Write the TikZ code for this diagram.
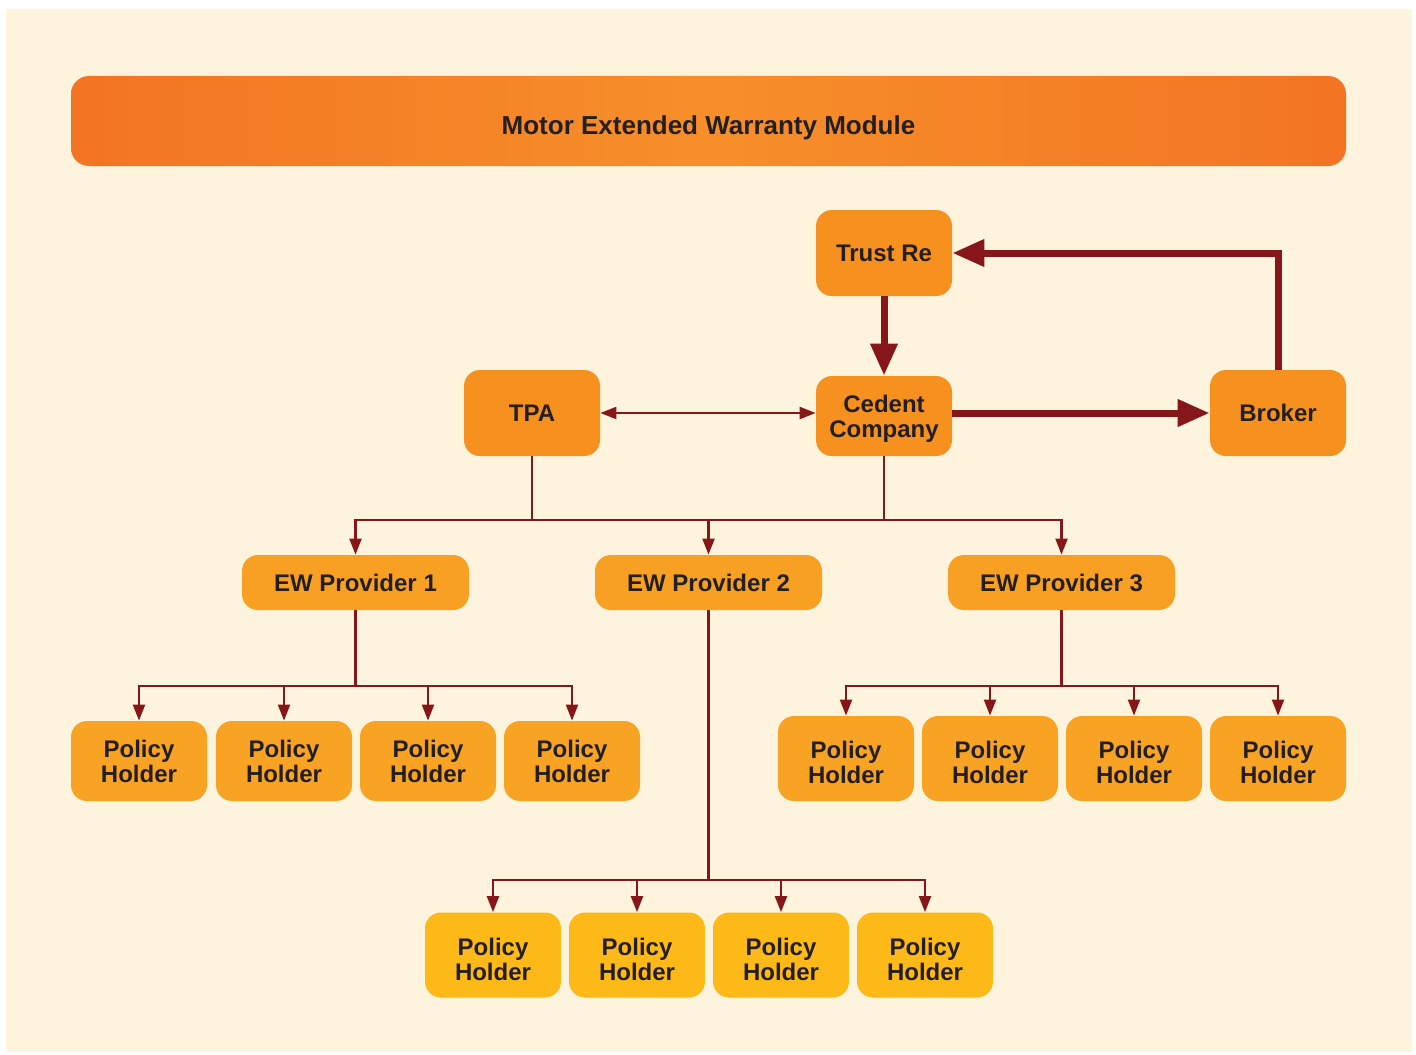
\documentclass[tikz,border=0pt]{standalone}
\usepackage{fontspec}
\setmainfont{Liberation Sans}
\usetikzlibrary{arrows.meta}
\definecolor{cream}{HTML}{FEF3DC}
\definecolor{linkred}{HTML}{85161A}
\definecolor{inkgray}{HTML}{231F20}
\definecolor{deeporange}{HTML}{F37424}
\definecolor{midorange}{HTML}{F68F2A}
\definecolor{boxorange}{HTML}{F6901F}
\definecolor{ewamber}{HTML}{F8A023}
\definecolor{holderamber}{HTML}{F8A324}
\definecolor{holderyellow}{HTML}{FDB918}
\tikzset{
	every node/.style = {font=\bfseries\fontsize{12pt}{12.5pt}\selectfont, text=inkgray, align=center},
	banner/.style = {rounded corners=9pt, minimum width=637.5pt, minimum height=45pt, inner sep=0pt,
		left color=deeporange, right color=deeporange, middle color=midorange,
		text height=13pt, text depth=0pt, font=\bfseries\fontsize{13pt}{14pt}\selectfont},
	box/.style = {rounded corners=8pt, fill=boxorange, minimum width=68pt, minimum height=43pt, inner sep=0pt},
	ewbox/.style = {rounded corners=8pt, fill=ewamber, minimum width=113.5pt, minimum height=27.5pt, inner sep=0pt},
	holder/.style = {rounded corners=8pt, fill=holderamber, minimum width=68pt, minimum height=40pt, inner sep=0pt},
	tallholder/.style = {holder, minimum height=42.5pt, text height=25.3pt, text depth=0pt},
	lowholder/.style = {tallholder, fill=holderyellow},
	bigarrow/.style = {-{Triangle[length=16pt,width=13pt]}, line width=3.5pt, draw=linkred},
	link/.style = {line width=1.1pt, draw=linkred, >={Triangle[length=8pt,width=6pt]}}
}
\begin{document}
\begin{tikzpicture}[x=0.5pt, y=-0.5pt]
		\useasboundingbox (0,0) rectangle (1416,1054);
		\fill[white] (0,0) rectangle (1416,1054);
		\fill[cream] (6,9) rectangle (1412,1052);
		% title
		\node[banner] (title) at (708.5,121) {Motor Extended Warranty Module};
		% top level
		\node[box] (trust) at (884,253) {Trust Re};
		\node[box] (tpa) at (532,413) {TPA};
		\node[box, minimum height=40pt, text depth=0pt] (cedent) at (884,416) {Cedent\\Company};
		\node[box] (broker) at (1278,413) {Broker};
		% providers
		\node[ewbox] (ew1) at (355.5,582.5) {EW Provider 1};
		\node[ewbox] (ew2) at (708.5,582.5) {EW Provider 2};
		\node[ewbox] (ew3) at (1061.5,582.5) {EW Provider 3};
		% policy holders
		\node[holder] (ph11) at (139,761) {Policy\\Holder};
		\node[holder] (ph12) at (284,761) {Policy\\Holder};
		\node[holder] (ph13) at (428,761) {Policy\\Holder};
		\node[holder] (ph14) at (572,761) {Policy\\Holder};
		\node[tallholder] (ph31) at (846,758.5) {Policy\\Holder};
		\node[tallholder] (ph32) at (990,758.5) {Policy\\Holder};
		\node[tallholder] (ph33) at (1134,758.5) {Policy\\Holder};
		\node[tallholder] (ph34) at (1278,758.5) {Policy\\Holder};
		\node[lowholder] (ph21) at (493,955) {Policy\\Holder};
		\node[lowholder] (ph22) at (637,955) {Policy\\Holder};
		\node[lowholder] (ph23) at (781,955) {Policy\\Holder};
		\node[lowholder] (ph24) at (925,955) {Policy\\Holder};
		% split points
		\coordinate (split) at (0,520);
		\coordinate (split1) at (0,686);
		\coordinate (split2) at (0,880);
		% reinsurance loop
		\draw[bigarrow] (trust.south) -- (cedent.north);
		\draw[bigarrow] (cedent.east |- broker.west) -- (broker.west);
		\draw[bigarrow] (broker.north) |- (trust.east);
		\draw[link, <->] (tpa.east) -- (cedent.west |- tpa.east);
		% to providers
		\draw[link] (tpa.south) -- (tpa.south |- split);
		\draw[link] (cedent.south) -- (cedent.south |- split);
		\draw[link, line cap=rect] (ew1.north |- split) -- (ew3.north |- split);
		\foreach \n in {ew1,ew2,ew3}
			\draw[link, ->] (\n.north |- split) -- (\n.north);
		% to holders
		\draw[link] (ew1.south) -- (ew1.south |- split1);
		\draw[link, line cap=rect] (ph11.north |- split1) -- (ph14.north |- split1);
		\foreach \n in {ph11,ph12,ph13,ph14}
			\draw[link, ->] (\n.north |- split1) -- (\n.north);
		\draw[link] (ew3.south) -- (ew3.south |- split1);
		\draw[link, line cap=rect] (ph31.north |- split1) -- (ph34.north |- split1);
		\foreach \n in {ph31,ph32,ph33,ph34}
			\draw[link, ->] (\n.north |- split1) -- (\n.north);
		\draw[link] (ew2.south) -- (ew2.south |- split2);
		\draw[link, line cap=rect] (ph21.north |- split2) -- (ph24.north |- split2);
		\foreach \n in {ph21,ph22,ph23,ph24}
			\draw[link, ->] (\n.north |- split2) -- (\n.north);
	\end{tikzpicture}
\end{document}
